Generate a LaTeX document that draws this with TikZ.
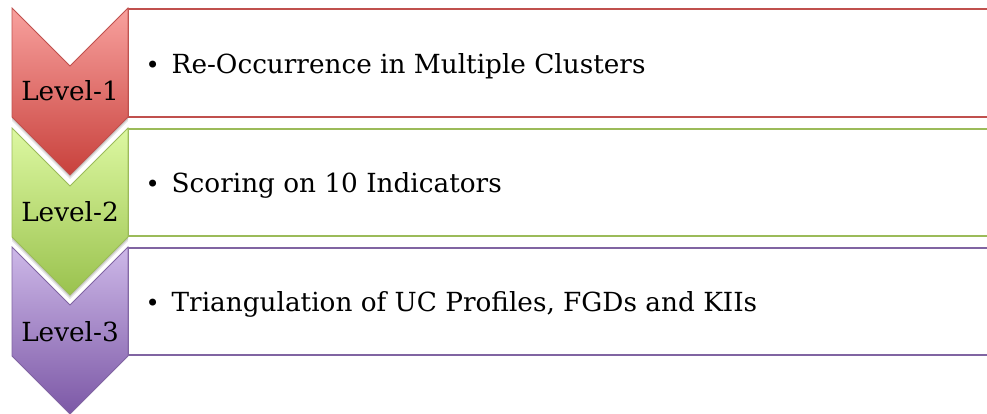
\documentclass[tikz,border=0pt]{standalone}
\usepackage{fontspec}
\setmainfont{DejaVu Serif}
\definecolor{redline}{HTML}{C0504D}
\definecolor{redtop}{HTML}{F8A19E}
\definecolor{redbot}{HTML}{C8413C}
\definecolor{greenline}{HTML}{9BBB59}
\definecolor{greentop}{HTML}{DDF8A2}
\definecolor{greenbot}{HTML}{9AC24E}
\definecolor{purpleline}{HTML}{8064A2}
\definecolor{purpletop}{HTML}{CDB8E8}
\definecolor{purplebot}{HTML}{7C58A6}
\tikzset{
  levelbox/.style={line width=1.5pt},
  leveltext/.style={anchor=base, inner sep=0pt, font=\fontsize{26.3}{32}\selectfont},
  itemtext/.style={anchor=base west, inner sep=0pt, font=\fontsize{26.3}{32}\selectfont},
  bulletmark/.style={anchor=base, inner sep=0pt, font=\fontsize{24}{32}\selectfont},
}
% chevron with its top edge at height #1
\newcommand{\chevronpath}[1]{(12,#1) -- (70,#1+58) -- (128,#1) -- (128,#1+109) -- (70,#1+167) -- (12,#1+109) -- cycle}
\begin{document}
\begin{tikzpicture}[x=1pt,y=-1pt]
\useasboundingbox (0,0) rectangle (987,414);
\fill[white] (0,0) rectangle (987,414);

% text panels, open on the right
\draw[levelbox, redline]    (987,9)   -- (128,9)   -- (128,117) -- (987,117);
\draw[levelbox, greenline]  (987,129) -- (128,129) -- (128,236) -- (987,236);
\draw[levelbox, purpleline] (987,248) -- (128,248) -- (128,355) -- (987,355);

% chevrons, lowest first so each tip overlaps the one below
\shade[top color=purpletop, bottom color=purplebot, draw=purpleline, line width=0.8pt] \chevronpath{247};

\fill[black, opacity=0.10] [shift={(0,4)}] \chevronpath{128};
\fill[black, opacity=0.12] [shift={(0,2)}] \chevronpath{128};
\shade[top color=greentop, bottom color=greenbot, draw=greenline, line width=0.8pt] \chevronpath{128};

\fill[black, opacity=0.10] [shift={(0,4)}] \chevronpath{8};
\fill[black, opacity=0.12] [shift={(0,2)}] \chevronpath{8};
\shade[top color=redtop, bottom color=redbot, draw=redline, line width=0.8pt] \chevronpath{8};

% labels
\node[leveltext] (l1) at (70,101) {Level-1};
\node[leveltext] (l2) at (70,221.5) {Level-2};
\node[leveltext] (l3) at (70,341) {Level-3};

\node[bulletmark] (b1) at (152.7,73.3) {\textbullet};
\node[bulletmark] (b2) at (152.7,193) {\textbullet};
\node[bulletmark] (b3) at (152.7,311.7) {\textbullet};

\node[itemtext] (t1) at (171.5,73.3) {Re-Occurrence in Multiple Clusters};
\node[itemtext] (t2) at (171.5,193) {Scoring on 10 Indicators};
\node[itemtext] (t3) at (171.5,311.7) {Triangulation of UC Profiles, FGDs and KIIs};
\end{tikzpicture}
\end{document}
